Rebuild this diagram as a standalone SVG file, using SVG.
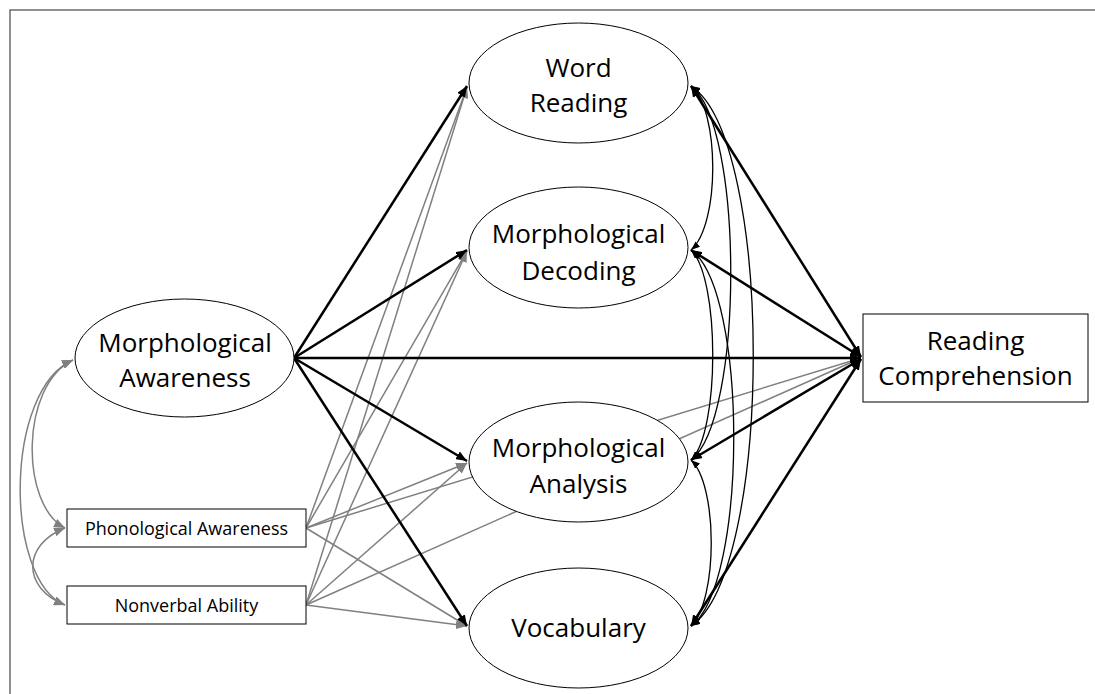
<svg xmlns="http://www.w3.org/2000/svg" width="1095" height="694" viewBox="0 0 1095 694">
  <style>
    .frame { fill: none; stroke: #555; stroke-width: 1.3; }
    .node { fill: #fff; stroke: #000; stroke-width: 1; }
    .big { font-family: "Open Sans", "Noto Sans", sans-serif; font-size: 26px; fill: #000; text-anchor: middle; }
    .small { font-family: "Open Sans", "Noto Sans", sans-serif; font-size: 18px; fill: #000; text-anchor: middle; }
    .thick { fill: none; stroke: #000; stroke-width: 2.5; }
    .gray { fill: none; stroke: #808080; stroke-width: 1.5; }
    .cov { fill: none; stroke: #000; stroke-width: 1.3; }
    .gcov { fill: none; stroke: #808080; stroke-width: 1.5; }
  </style>
  <defs>
    <marker id="ahB" markerUnits="userSpaceOnUse" markerWidth="12" markerHeight="9" refX="11" refY="4.5" orient="auto-start-reverse">
      <path d="M0,0 L11,4.5 L0,9 z" fill="#000"/>
    </marker>
    <marker id="ahG" markerUnits="userSpaceOnUse" markerWidth="12" markerHeight="9" refX="11" refY="4.5" orient="auto-start-reverse">
      <path d="M0,0 L11,4.5 L0,9 z" fill="#808080"/>
    </marker>
    <marker id="ahC" markerUnits="userSpaceOnUse" markerWidth="10" markerHeight="8" refX="9" refY="3.5" orient="auto-start-reverse">
      <path d="M0,0 L9,3.5 L0,7 z" fill="#000"/>
    </marker>
  </defs>

  <rect class="frame" x="10" y="10" width="1200" height="800"/>

  <g id="connectors">
    <!-- gray paths from covariates -->
    <path class="gray" d="M306,528 L467,87" marker-end="url(#ahG)"/>
    <path class="gray" d="M306,528 L467,251" marker-end="url(#ahG)"/>
    <path class="gray" d="M306,528 L467,463" marker-end="url(#ahG)"/>
    <path class="gray" d="M306,528 L467,626" marker-end="url(#ahG)"/>
    <path class="gray" d="M306,528 L861,358" marker-end="url(#ahG)"/>
    <path class="gray" d="M306,605 L467,87" marker-end="url(#ahG)"/>
    <path class="gray" d="M306,605 L467,251" marker-end="url(#ahG)"/>
    <path class="gray" d="M306,605 L467,463" marker-end="url(#ahG)"/>
    <path class="gray" d="M306,605 L467,626" marker-end="url(#ahG)"/>
    <path class="gray" d="M306,605 L861,358" marker-end="url(#ahG)"/>
    <!-- gray covariances on the left -->
    <path class="gcov" d="M73,360 C20,385 20,505 65,528" marker-start="url(#ahG)" marker-end="url(#ahG)"/>
    <path class="gcov" d="M73,360 C4,390 4,580 65,605" marker-start="url(#ahG)" marker-end="url(#ahG)"/>
    <path class="gcov" d="M65,528 C22,545 22,588 65,605" marker-start="url(#ahG)" marker-end="url(#ahG)"/>
    <!-- black paths from Morphological Awareness -->
    <path class="thick" d="M294,358 L467,86" marker-end="url(#ahB)"/>
    <path class="thick" d="M294,358 L467,250" marker-end="url(#ahB)"/>
    <path class="thick" d="M294,358 L861,358" marker-end="url(#ahB)"/>
    <path class="thick" d="M294,358 L467,461" marker-end="url(#ahB)"/>
    <path class="thick" d="M294,358 L467,626" marker-end="url(#ahB)"/>
    <!-- mediators to Reading Comprehension -->
    <path class="thick" d="M691,86 L861,357" marker-start="url(#ahB)" marker-end="url(#ahB)"/>
    <path class="thick" d="M691,250 L861,357" marker-start="url(#ahB)" marker-end="url(#ahB)"/>
    <path class="thick" d="M691,460 L861,359" marker-start="url(#ahB)" marker-end="url(#ahB)"/>
    <path class="thick" d="M691,626 L861,359" marker-start="url(#ahB)" marker-end="url(#ahB)"/>
    <!-- covariances among mediators -->
    <path class="cov" d="M691,86 C720,110 720,225 691,250" marker-start="url(#ahC)" marker-end="url(#ahC)"/>
    <path class="cov" d="M691,86 C744,125 744,420 691,460" marker-start="url(#ahC)" marker-end="url(#ahC)"/>
    <path class="cov" d="M691,86 C774,140 774,570 691,626" marker-start="url(#ahC)" marker-end="url(#ahC)"/>
    <path class="cov" d="M691,250 C720,278 720,432 691,460" marker-start="url(#ahC)" marker-end="url(#ahC)"/>
    <path class="cov" d="M691,250 C748,290 748,585 691,626" marker-start="url(#ahC)" marker-end="url(#ahC)"/>
    <path class="cov" d="M691,460 C718,485 718,600 691,626" marker-start="url(#ahC)" marker-end="url(#ahC)"/>
  </g>

  <g id="node-ma">
    <ellipse class="node" cx="184.5" cy="358" rx="109.5" ry="59"/>
    <text class="big" x="185" y="352">Morphological</text>
    <text class="big" x="185" y="387">Awareness</text>
  </g>
  <g id="node-pa">
    <rect class="node" x="67" y="509" width="239" height="38"/>
    <text class="small" x="186.5" y="535">Phonological Awareness</text>
  </g>
  <g id="node-na">
    <rect class="node" x="67" y="586" width="239" height="38"/>
    <text class="small" x="186.5" y="612">Nonverbal Ability</text>
  </g>
  <g id="node-wr">
    <ellipse class="node" cx="578.5" cy="83" rx="109.5" ry="60"/>
    <text class="big" x="578.5" y="77">Word</text>
    <text class="big" x="578.5" y="112">Reading</text>
  </g>
  <g id="node-md">
    <ellipse class="node" cx="578.5" cy="247.5" rx="109.5" ry="60.5"/>
    <text class="big" x="578.5" y="243">Morphological</text>
    <text class="big" x="578.5" y="280">Decoding</text>
  </g>
  <g id="node-an">
    <ellipse class="node" cx="578.5" cy="462" rx="109.5" ry="60"/>
    <text class="big" x="578.5" y="457">Morphological</text>
    <text class="big" x="578.5" y="493">Analysis</text>
  </g>
  <g id="node-vo">
    <ellipse class="node" cx="578.5" cy="628" rx="109.5" ry="60"/>
    <text class="big" x="578.5" y="637">Vocabulary</text>
  </g>
  <g id="node-rc">
    <rect class="node" x="863" y="314" width="225" height="88"/>
    <text class="big" x="975.5" y="350">Reading</text>
    <text class="big" x="975.5" y="385">Comprehension</text>
  </g>
</svg>
